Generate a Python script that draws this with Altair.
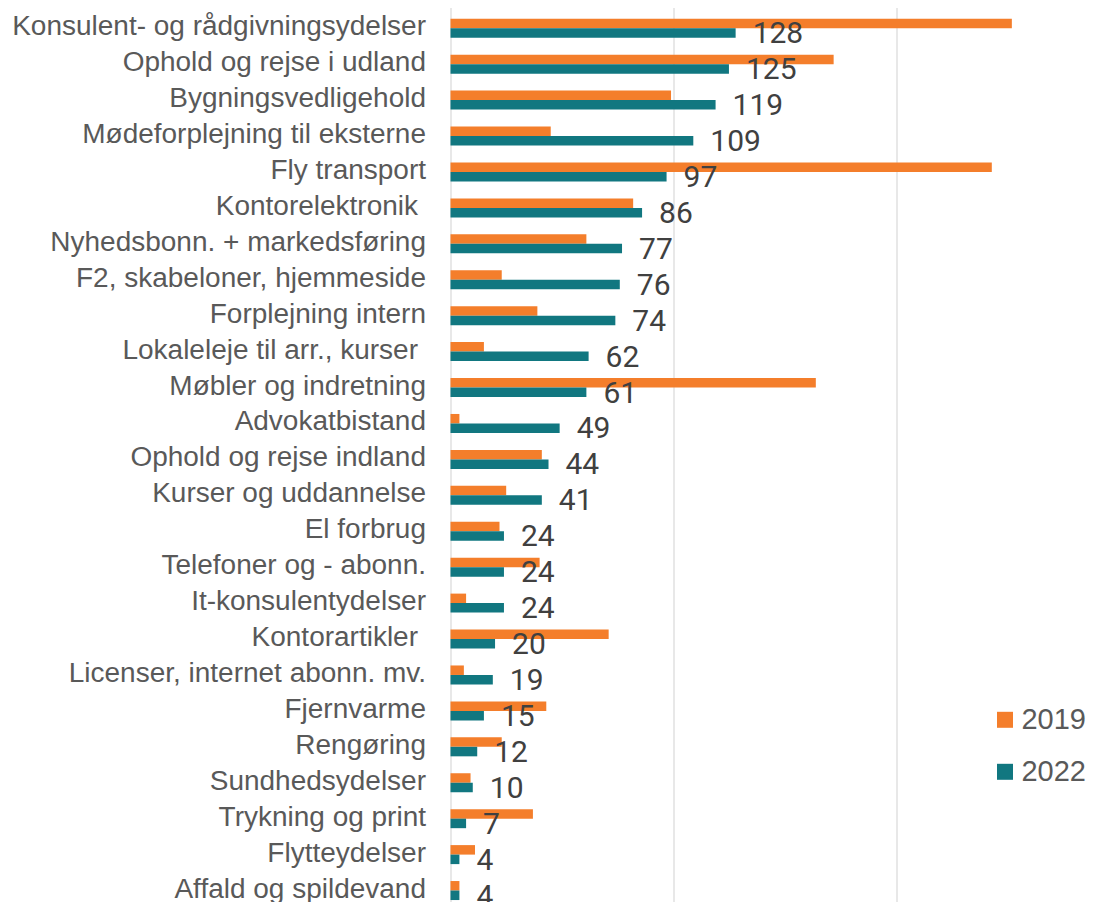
import altair as alt
import pandas as pd

categories = [
    "Konsulent- og rådgivningsydelser",
    "Ophold og rejse i udland",
    "Bygningsvedligehold",
    "Mødeforplejning til eksterne",
    "Fly transport",
    "Kontorelektronik ",
    "Nyhedsbonn. + markedsføring",
    "F2, skabeloner, hjemmeside",
    "Forplejning intern",
    "Lokaleleje til arr., kurser ",
    "Møbler og indretning",
    "Advokatbistand",
    "Ophold og rejse indland",
    "Kurser og uddannelse",
    "El forbrug",
    "Telefoner og - abonn.",
    "It-konsulentydelser",
    "Kontorartikler ",
    "Licenser, internet abonn. mv.",
    "Fjernvarme",
    "Rengøring",
    "Sundhedsydelser",
    "Trykning og print",
    "Flytteydelser",
    "Affald og spildevand",
]
v2019 = [252, 172, 99, 45, 243, 82, 61, 23, 39, 15, 164, 4, 41, 25, 22, 40, 7, 71, 6, 43, 23, 9, 37, 11, 4]
v2022 = [128, 125, 119, 109, 97, 86, 77, 76, 74, 62, 61, 49, 44, 41, 24, 24, 24, 20, 19, 15, 12, 10, 7, 4, 4]
years = ["2019", "2022"]
colors = ["#F47E2B", "#117780"]

rows = []
for c, a, b in zip(categories, v2019, v2022):
    rows.append({"category": c, "year": "2019", "value": a})
    rows.append({"category": c, "year": "2022", "value": b})
df = pd.DataFrame(rows)
df22 = df[df["year"] == "2022"]

trailing = [c.strip() for c in categories if c != c.strip()]
test_expr = "indexof(" + str(trailing) + ", trim(datum.label)) >= 0"

y_enc = alt.Y(
    "category:N",
    sort=categories,
    scale=alt.Scale(range=[0, 898.2], paddingInner=0.471, paddingOuter=0.2355),
    axis=alt.Axis(
        title=None,
        labelFontSize=28,
        labelFont="Liberation Sans",
        labelColor="#595959",
        ticks=False,
        domain=False,
        labelPadding={"condition": {"test": test_expr, "value": 33}, "value": 25},
        labelLimit=600,
        labelOffset=-1,
    ),
)

bars = alt.Chart(df).mark_bar().encode(
    y=y_enc,
    yOffset=alt.YOffset("year:N", sort=years, scale=alt.Scale(paddingInner=0, paddingOuter=0)),
    x=alt.X(
        "value:Q",
        scale=alt.Scale(domain=[0, 290], nice=False),
        axis=alt.Axis(
            title=None,
            labels=False,
            ticks=False,
            domain=False,
            values=[0, 100, 200],
            grid=True,
            gridColor="#d9d9d9",
            gridWidth=1.2,
        ),
    ),
    color=alt.Color(
        "year:N",
        scale=alt.Scale(domain=years, range=colors),
        legend=alt.Legend(
            title=None,
            orient="none",
            legendX=540,
            legendY=695,
            symbolType="square",
            symbolSize=256,
            symbolStrokeWidth=0,
            labelFontSize=29,
            labelFont="Liberation Sans",
            labelColor="#595959",
            labelOffset=2,
            rowPadding=22,
            padding=0,
        ),
    ),
)

labels = alt.Chart(df22).mark_text(
    align="left", baseline="middle", dx=17, dy=6, font="Roboto", fontSize=30, color="#404040"
).encode(
    y=alt.Y("category:N", sort=categories),
    x=alt.X("value:Q"),
    text=alt.Text("value:Q"),
)

chart = (
    alt.layer(bars, labels)
    .properties(
        width=646,
        height=892,
        autosize="none",
        padding={"left": 442.5, "top": 2.3, "right": 0, "bottom": 0},
    )
    .configure_view(stroke=None)
)

chart.save("out.html", embed_options={"renderer": "svg", "actions": False})
